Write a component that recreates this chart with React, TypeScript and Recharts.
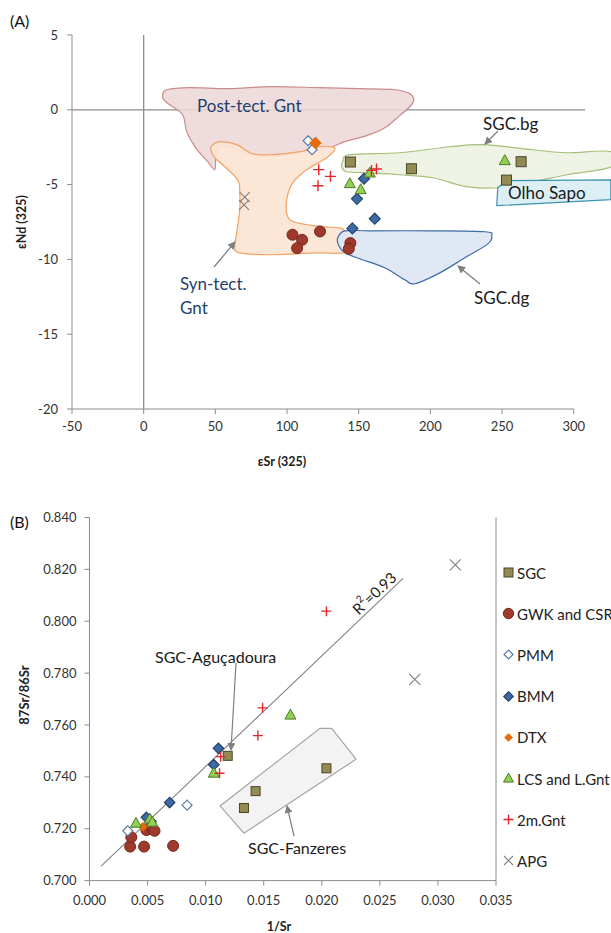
import React from "react"
import { ScatterChart, Scatter, XAxis, YAxis, ReferenceLine } from "recharts"

const FONT = "Lato, 'Open Sans', sans-serif"
const AXIS = "#8c8c8c"

// ---------- (A) eSr vs eNd ----------
const ticksSrA = [-50, 0, 50, 100, 150, 200, 250, 300]
const ticksNdA = [-20, -15, -10, -5, 0, 5]

const sgcA = [[144.2, -3.49], [186.8, -3.94], [263.3, -3.47], [253.1, -4.7]]
const gwkA = [[103.8, -8.35], [110.5, -8.69], [107, -9.25], [123, -8.13], [144.2, -8.91], [143.1, -9.29]]
const pmmA = [[114.7, -2.07], [117.5, -2.67]]
const bmmA = [[153.7, -4.61], [148.8, -5.95], [161.2, -7.28], [145.6, -7.93]]
const dtxA = [[119.8, -2.22]]
const lcsA = [[143.8, -4.94], [151.4, -5.34], [157.7, -4.23], [251.9, -3.4]]
const gnt2mA = [[122.1, -4.0], [130.3, -4.45], [121.6, -5.08], [158.9, -4.05], [162.4, -3.96]]
const apgA = [[70.5, -5.83], [70, -6.35]]

// field outlines (eSr, eNd)
const postTect = [[13.3, 1.01], [16.1, 1.34], [32.1, 1.48], [60, 1.41], [87.9, 1.55], [122.8, 1.48], [150.7, 1.41], [175.2, 1.34], [185.6, 1.08], [188.4, 0.68], [186.3, 0.27], [178.6, -0.39], [168.2, -1.2], [155.6, -1.73], [140.3, -2.13], [131.9, -2.47], [122.8, -2.67], [108.9, -2.87], [90, -3.07], [76.1, -3.0], [64.9, -2.6], [55.1, -2.4], [50.9, -2.67], [50.2, -3.34], [49.5, -4.01], [44.7, -3.47], [36.3, -2.54], [30, -1.46], [27.2, -0.33], [18.1, 0.34], [14, 0.68]]
const synTect = [[47.5, -2.4], [53, -2.13], [64.9, -2.33], [76.1, -2.94], [90, -3.0], [108.9, -2.8], [122.8, -2.47], [131.2, -2.47], [133.3, -2.67], [127.7, -3.2], [113.7, -4.01], [104, -4.88], [99.8, -6.01], [100.5, -7.15], [106.8, -7.55], [124.9, -7.82], [136.8, -7.89], [141, -8.22], [140.3, -9.02], [138.9, -9.56], [120.7, -9.56], [90, -9.69], [67, -9.56], [63.5, -9.16], [64.9, -8.22], [67, -6.68], [67, -5.48], [65.6, -4.68], [55.1, -3.67], [49.5, -3.2], [46.8, -2.67]]
const sgcDg = [[135.4, -8.56], [140.3, -8.09], [157.7, -8.09], [199.6, -8.09], [238, -8.15], [242.8, -8.42], [240.1, -8.96], [224, -9.89], [206.6, -10.9], [189.1, -11.63], [182.1, -11.36], [168.2, -10.56], [150.7, -9.96], [140.3, -9.56], [136.1, -9.09]]
const sgcBg = [[138.9, -3.47], [143.8, -3.0], [178.6, -2.87], [213.5, -2.47], [236.6, -2.33], [271.5, -2.67], [295.2, -2.87], [325.9, -2.8], [325.9, -3.81], [295.2, -4.34], [271.5, -4.81], [248.4, -5.21], [225.4, -5.14], [201.7, -4.54], [178.6, -4.34], [155.6, -4.21], [141.7, -4.14], [138.2, -3.81]]
const olhoSapo = [[247, -5.21], [253.3, -4.74], [325.9, -4.68], [325.9, -6.01], [246.3, -6.41]]

// ---------- (B) 1/Sr vs 87Sr/86Sr ----------
const ticksInvSr = [0, 0.005, 0.01, 0.015, 0.02, 0.025, 0.03, 0.035]
const ticksRatio = [0.7, 0.72, 0.74, 0.76, 0.78, 0.8, 0.82, 0.84]

const sgcB = [[0.0119, 0.7481], [0.0143, 0.7345], [0.0133, 0.728], [0.0204, 0.7433]]
const gwkB = [[0.0035, 0.7131], [0.0047, 0.7131], [0.0072, 0.7134], [0.0036, 0.7167], [0.0049, 0.7195], [0.0054, 0.72], [0.0056, 0.7192]]
const pmmB = [[0.0033, 0.7192], [0.0084, 0.7291]]
const bmmB = [[0.0069, 0.7301], [0.0107, 0.7447], [0.0111, 0.751], [0.0049, 0.7244], [0.0053, 0.7228]]
const dtxB = [[0.0046, 0.7208]]
const lcsB = [[0.004, 0.7221], [0.0052, 0.7237], [0.0054, 0.7225], [0.0107, 0.7414], [0.0173, 0.7638]]
const gnt2mB = [[0.0204, 0.8039], [0.0149, 0.7666], [0.0145, 0.7559], [0.0113, 0.7478], [0.0112, 0.7414]]
const apgB = [[0.0315, 0.8217], [0.028, 0.7776]]

const fitLine = [[0.001, 0.7056], [0.027, 0.8165]]
const fanzeres = [[0.01985, 0.7587], [0.02085, 0.7587], [0.02295, 0.7468], [0.0133, 0.7183], [0.01124, 0.7288]]

const pts = (a: number[][]) => a.map(([x, y]) => ({ x, y }))

// closed catmull-rom curve, used as the Curve type for the field outlines
function smoothClosed(context: any) {
  let p: number[][] = []
  return {
    areaStart() {},
    areaEnd() {},
    lineStart() {
      p = []
    },
    lineEnd() {
      const n = p.length
      if (!n) return
      context.moveTo(p[0][0], p[0][1])
      for (let i = 0; i < n; i++) {
        const p0 = p[(i - 1 + n) % n]
        const p1 = p[i]
        const p2 = p[(i + 1) % n]
        const p3 = p[(i + 2) % n]
        const k = 1 / 6
        context.bezierCurveTo(
          p1[0] + (p2[0] - p0[0]) * k,
          p1[1] + (p2[1] - p0[1]) * k,
          p2[0] - (p3[0] - p1[0]) * k,
          p2[1] - (p3[1] - p1[1]) * k,
          p2[0],
          p2[1]
        )
      }
      context.closePath()
    },
    point(x: number, y: number) {
      p.push([x, y])
    },
  }
}

// ---------- marker shapes ----------
const none = () => <g />
const sq = (fill: string, stroke: string, s: number) => (p: any) => (
  <rect x={p.cx - s / 2} y={p.cy - s / 2} width={s} height={s} fill={fill} stroke={stroke} strokeWidth={1} />
)
const dot = (fill: string, stroke: string, r: number) => (p: any) => (
  <circle cx={p.cx} cy={p.cy} r={r} fill={fill} stroke={stroke} strokeWidth={1} />
)
const dia = (fill: string, stroke: string, s: number) => (p: any) => (
  <polygon
    points={`${p.cx},${p.cy - s / 2} ${p.cx + s / 2},${p.cy} ${p.cx},${p.cy + s / 2} ${p.cx - s / 2},${p.cy}`}
    fill={fill}
    stroke={stroke}
    strokeWidth={1.2}
  />
)
const tri = (fill: string, stroke: string, s: number) => (p: any) => {
  const h = s * 0.9
  return (
    <polygon
      points={`${p.cx},${p.cy - h * 0.6} ${p.cx + s / 2},${p.cy + h * 0.4} ${p.cx - s / 2},${p.cy + h * 0.4}`}
      fill={fill}
      stroke={stroke}
      strokeWidth={1}
    />
  )
}
const plus = (c: string, s: number) => (p: any) => (
  <path d={`M${p.cx - s / 2},${p.cy}H${p.cx + s / 2}M${p.cx},${p.cy - s / 2}V${p.cy + s / 2}`} stroke={c} strokeWidth={1.4} fill="none" />
)
const cross = (c: string, s: number) => (p: any) => (
  <path
    d={`M${p.cx - s / 2},${p.cy - s / 2}L${p.cx + s / 2},${p.cy + s / 2}M${p.cx + s / 2},${p.cy - s / 2}L${p.cx - s / 2},${p.cy + s / 2}`}
    stroke={c}
    strokeWidth={1.1}
    fill="none"
  />
)

const C = {
  sgc: ["#948A54", "#4A452A"],
  gwk: ["#9E3A2C", "#75281F"],
  pmm: ["#ffffff", "#5A78A8"],
  bmm: ["#3D6AA2", "#24446F"],
  dtx: ["#E46C0A", "#E46C0A"],
  lcs: ["#92D050", "#4F7A28"],
  gnt: "#E3262A",
  apg: "#7F7F7F",
}

const legendItems = [
  { name: "SGC", shape: sq(C.sgc[0], C.sgc[1], 9) },
  { name: "GWK and CSR", shape: dot(C.gwk[0], C.gwk[1], 5.2) },
  { name: "PMM", shape: dia(C.pmm[0], C.pmm[1], 9) },
  { name: "BMM", shape: dia(C.bmm[0], C.bmm[1], 9.5) },
  { name: "DTX", shape: dia(C.dtx[0], C.dtx[1], 7) },
  { name: "LCS and L.Gnt", shape: tri(C.lcs[0], C.lcs[1], 10) },
  { name: "2m.Gnt", shape: plus(C.gnt, 10) },
  { name: "APG", shape: cross(C.apg, 9) },
]

const tick = { fontSize: 13, fill: "#333", fontFamily: FONT }

function arrowLine(x1: number, y1: number, x2: number, y2: number, key: string) {
  return <line key={key} x1={x1} y1={y1} x2={x2} y2={y2} stroke="#7f7f7f" strokeWidth={1.2} markerEnd="url(#arr)" />
}

export default function App() {
  const field = (data: number[][], fill: string, stroke: string, key: string, smooth = true) => (
    <Scatter
      key={key}
      data={pts(data)}
      line={{ stroke, fill, strokeWidth: 1.2 }}
      lineType="joint"
      lineJointType={smooth ? (smoothClosed as any) : "linearClosed"}
      shape={none}
      isAnimationActive={false}
    />
  )

  return (
    <div style={{ position: "absolute", left: 0, top: 0, width: 611, height: 933, background: "#fff", fontFamily: FONT }}>
      <div style={{ position: "absolute", left: 0, top: 0 }}>
        <ScatterChart width={611} height={470} margin={{ top: 35, right: 0, bottom: 0, left: 10 }}>
          <XAxis
            type="number"
            dataKey="x"
            domain={[-50, 326]}
            allowDataOverflow
            ticks={ticksSrA}
            interval={0}
            axisLine={false}
            tickLine={{ stroke: AXIS }}
            tickSize={5}
            tickMargin={8}
            tick={tick}
            height={61}
          />
          <YAxis
            type="number"
            dataKey="y"
            domain={[-20, 5]}
            allowDataOverflow
            ticks={ticksNdA}
            interval={0}
            axisLine={{ stroke: AXIS }}
            tickLine={{ stroke: AXIS }}
            tickSize={5}
            tickMargin={9}
            tick={tick}
            width={62}
          />
          {field(postTect, "rgba(236,214,214,0.85)", "#C98C8C", "post")}
          {field(synTect, "rgba(252,228,210,0.92)", "#F2A163", "syn")}
          {field(sgcDg, "rgba(220,230,242,0.9)", "#3E6CA6", "dg")}
          {field(sgcBg, "rgba(237,242,226,0.9)", "#A5BE78", "bg")}
          {field(olhoSapo, "rgba(218,238,243,0.95)", "#3A93AE", "olho", false)}
          <ReferenceLine x={0} stroke={AXIS} strokeWidth={1.3} />
          <ReferenceLine segment={[{ x: -50, y: 0 }, { x: 308, y: 0 }]} stroke={AXIS} strokeWidth={1.3} />
          <ReferenceLine segment={[{ x: -50, y: -20 }, { x: 300, y: -20 }]} stroke={AXIS} strokeWidth={1} />
          <Scatter data={pts(sgcA)} shape={sq(C.sgc[0], C.sgc[1], 10)} isAnimationActive={false} />
          <Scatter data={pts(gwkA)} shape={dot(C.gwk[0], C.gwk[1], 5.5)} isAnimationActive={false} />
          <Scatter data={pts(pmmA)} shape={dia(C.pmm[0], C.pmm[1], 10)} isAnimationActive={false} />
          <Scatter data={pts(bmmA)} shape={dia(C.bmm[0], C.bmm[1], 11)} isAnimationActive={false} />
          <Scatter data={pts(dtxA)} shape={dia(C.dtx[0], C.dtx[1], 11)} isAnimationActive={false} />
          <Scatter data={pts(lcsA)} shape={tri(C.lcs[0], C.lcs[1], 11)} isAnimationActive={false} />
          <Scatter data={pts(gnt2mA)} shape={plus(C.gnt, 11)} isAnimationActive={false} />
          <Scatter data={pts(apgA)} shape={cross(C.apg, 10)} isAnimationActive={false} />
        </ScatterChart>
      </div>

      <div style={{ position: "absolute", left: 0, top: 480 }}>
        <ScatterChart width={611} height={453} margin={{ top: 37.5, right: 115, bottom: 0, left: 10 }}>
          <XAxis
            type="number"
            dataKey="x"
            domain={[0, 0.035]}
            allowDataOverflow
            ticks={ticksInvSr}
            interval={0}
            axisLine={{ stroke: AXIS }}
            tickLine={{ stroke: AXIS }}
            tickSize={5}
            tickMargin={10}
            tick={tick}
            tickFormatter={(v: number) => v.toFixed(3)}
            height={52.4}
          />
          <YAxis
            type="number"
            dataKey="y"
            domain={[0.7, 0.84]}
            allowDataOverflow
            ticks={ticksRatio}
            interval={0}
            axisLine={{ stroke: AXIS }}
            tickLine={{ stroke: AXIS }}
            tickSize={5}
            tickMargin={8}
            tick={tick}
            tickFormatter={(v: number) => v.toFixed(3)}
            width={79.5}
          />
          <ReferenceLine x={0.035} stroke={AXIS} strokeWidth={1} />
          {field(fanzeres, "rgba(242,242,242,0.95)", "#A6A6A6", "fz", false)}
          <Scatter
            data={pts(fitLine)}
            line={{ stroke: "#808080", strokeWidth: 1.1 }}
            lineType="joint"
            shape={none}
            isAnimationActive={false}
          />
          <Scatter data={pts(sgcB)} shape={sq(C.sgc[0], C.sgc[1], 9)} isAnimationActive={false} />
          <Scatter data={pts(gwkB)} shape={dot(C.gwk[0], C.gwk[1], 5.5)} isAnimationActive={false} />
          <Scatter data={pts(pmmB)} shape={dia(C.pmm[0], C.pmm[1], 10)} isAnimationActive={false} />
          <Scatter data={pts(bmmB)} shape={dia(C.bmm[0], C.bmm[1], 10.5)} isAnimationActive={false} />
          <Scatter data={pts(dtxB)} shape={dia(C.dtx[0], C.dtx[1], 8)} isAnimationActive={false} />
          <Scatter data={pts(lcsB)} shape={tri(C.lcs[0], C.lcs[1], 11)} isAnimationActive={false} />
          <Scatter data={pts(gnt2mB)} shape={plus(C.gnt, 10)} isAnimationActive={false} />
          <Scatter data={pts(apgB)} shape={cross(C.apg, 11)} isAnimationActive={false} />
        </ScatterChart>
      </div>

      {/* legend for (B) */}
      <div style={{ position: "absolute", left: 502, top: 552 }}>
        {legendItems.map((it) => (
          <div key={it.name} style={{ height: 41.2, display: "flex", alignItems: "center" }}>
            <svg width={13} height={13} style={{ display: "block" }}>
              {it.shape({ cx: 6.5, cy: 6.5 })}
            </svg>
            <span style={{ marginLeft: 2, fontSize: 15, color: "#222", whiteSpace: "nowrap" }}>{it.name}</span>
          </div>
        ))}
      </div>

      {/* annotations */}
      <svg width={611} height={933} style={{ position: "absolute", left: 0, top: 0, pointerEvents: "none" }} fontFamily={FONT}>
        <defs>
          <marker id="arr" markerWidth="8" markerHeight="8" refX="7" refY="4" orient="auto" markerUnits="userSpaceOnUse">
            <path d="M0,0 L8,4 L0,8 z" fill="#7f7f7f" />
          </marker>
        </defs>
        <text x={10} y={20} fontSize={16} dominantBaseline="central" fill="#111">(A)</text>
        <text x={10} y={521} fontSize={16} dominantBaseline="central" fill="#111">(B)</text>

        <text x={197} y={105} fontSize={17} dominantBaseline="central" fill="#1F3F6E">Post-tect. Gnt</text>
        <text x={180} y={283} fontSize={17} dominantBaseline="central" fill="#1F3F6E">Syn-tect.</text>
        <text x={180} y={307} fontSize={17} dominantBaseline="central" fill="#1F3F6E">Gnt</text>
        <text x={483} y={123} fontSize={17} dominantBaseline="central" fill="#1a1a1a">SGC.bg</text>
        <text x={508} y={192} fontSize={17} dominantBaseline="central" fill="#1a1a1a">Olho Sapo</text>
        <text x={474} y={297} fontSize={17} dominantBaseline="central" fill="#1a1a1a">SGC.dg</text>
        {arrowLine(498, 131, 485, 144, "a1")}
        {arrowLine(214, 267, 235, 242, "a2")}
        {arrowLine(480, 284, 458, 266, "a3")}

        <text x={155} y={656} fontSize={16} dominantBaseline="central" fill="#1a1a1a">SGC-Aguçadoura</text>
        <text x={248} y={847} fontSize={16} dominantBaseline="central" fill="#1a1a1a">SGC-Fanzeres</text>
        {arrowLine(236, 663, 231, 750, "b1")}
        {arrowLine(294, 836, 287, 806, "b2")}
        <text x={374} y={593} fontSize={15} textAnchor="middle" dominantBaseline="central" fill="#1a1a1a" transform="rotate(-43.6 374 593)">
          R<tspan dy={-6} fontSize={10}>2</tspan>
          <tspan dy={6}>=0.93</tspan>
        </text>

        <text x={282} y={461} fontSize={12.5} fontWeight="bold" textAnchor="middle" dominantBaseline="central" fill="#222">εSr (325)</text>
        <text x={279} y={926} fontSize={12.5} fontWeight="bold" textAnchor="middle" dominantBaseline="central" fill="#222">1/Sr</text>
        <text x={21} y={222} fontSize={12.5} fontWeight="bold" textAnchor="middle" dominantBaseline="central" fill="#222" transform="rotate(-90 21 222)">εNd (325)</text>
        <text x={24} y={695} fontSize={13} fontWeight="bold" textAnchor="middle" dominantBaseline="central" fill="#222" transform="rotate(-90 24 695)">87Sr/86Sr</text>
      </svg>
    </div>
  )
}
